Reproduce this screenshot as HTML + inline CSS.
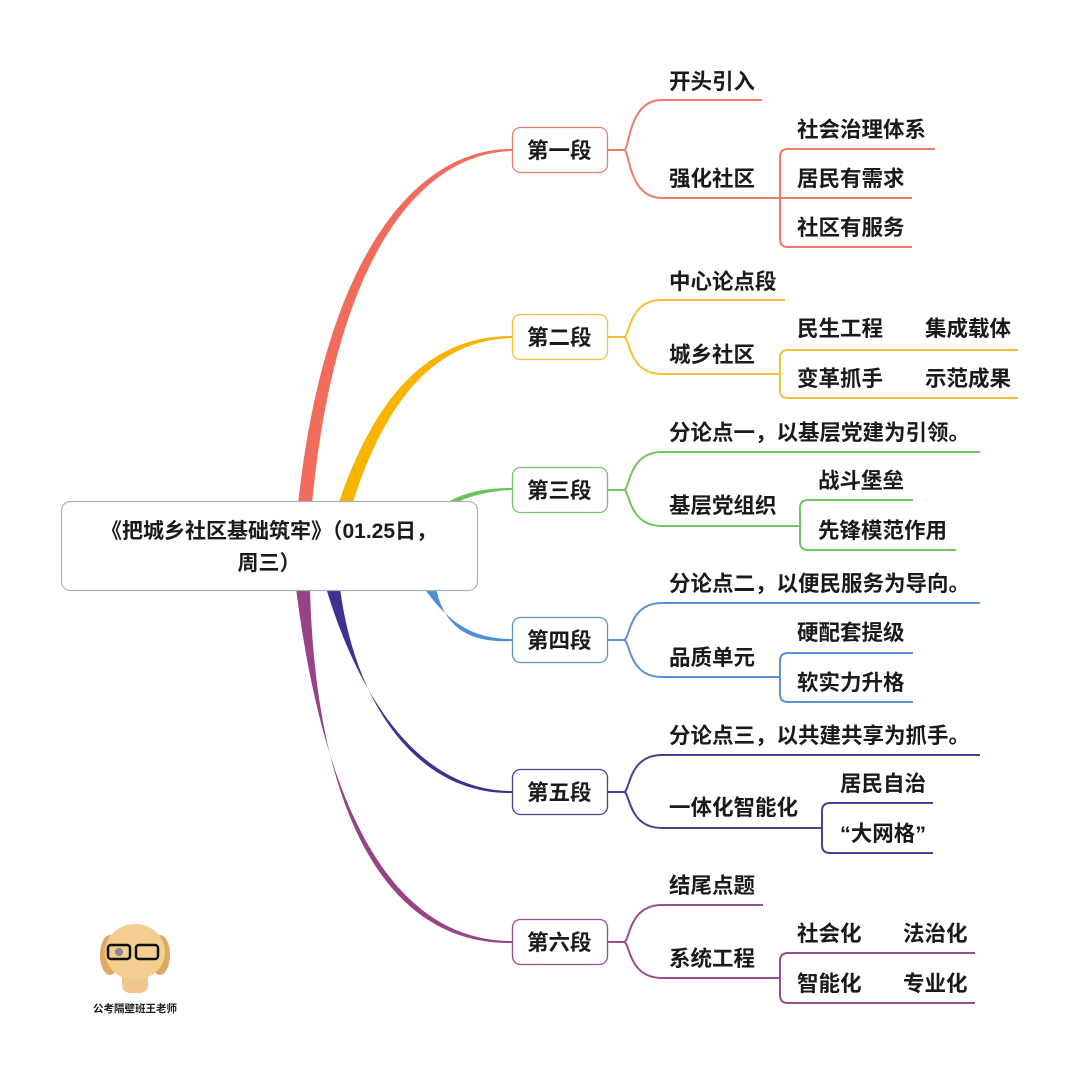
<!DOCTYPE html>
<html><head><meta charset="utf-8"><style>
html,body{margin:0;padding:0;background:#fff}
svg text{font-family:"Liberation Sans","Noto Sans CJK SC",sans-serif;font-weight:bold;fill:#1a1a1a}
</style></head><body>
<svg width="1080" height="1065" viewBox="0 0 1080 1065" xmlns="http://www.w3.org/2000/svg">
<rect width="1080" height="1065" fill="#fff"/>
<path d="M298,505 C325,250 420,148 512,149 L512,151 C422,153 335,255 312,505Z" fill="#f26c5c"/>
<path d="M338,505 C380,380 440,336 512,336 L512,338 C445,340 390,385 352,505Z" fill="#f7b500"/>
<path d="M446,503 C465,492 485,488 512,488 L512,490 C488,491 470,496 456,503Z" fill="#6cc25a"/>
<path d="M424,588 C450,625 475,639 512,639 L512,641 C475,643 445,632 436,588Z" fill="#4d8fd6"/>
<path d="M326,588 C360,700 420,791 512,791 L512,793 C418,795 355,705 340,588Z" fill="#3f3192"/>
<path d="M296,588 C320,780 380,941 512,941 L512,943 C375,945 315,790 310,588Z" fill="#974387"/>
<rect x="61.5" y="501.5" width="416" height="89" rx="9" fill="#fff" stroke="#aab0b8" stroke-width="1.2"/>
<text x="269" y="538" font-size="21" text-anchor="middle">《把城乡社区基础筑牢》（01.25日，</text>
<text x="269" y="570" font-size="21" text-anchor="middle">周三）</text>

<g fill="none" stroke-width="2">
<g stroke="#ee7a68">
<rect x="512.5" y="127.5" width="95" height="45" rx="8" fill="#fff" stroke-width="1.3"/>
<path d="M607,150 H624 C630,150 628,100 662,100 H762"/>
<path d="M624,150 C630,150 628,198 662,198 H780"/>
<path d="M780,198 V157 Q780,149 788,149 H935"/>
<path d="M780,198 H912"/>
<path d="M780,198 V239 Q780,247 788,247 H912"/>
</g>
<g stroke="#f5c03a">
<rect x="512.5" y="314.5" width="95" height="45" rx="8" fill="#fff" stroke-width="1.3"/>
<path d="M607,337 H624 C630,337 628,300 662,300 H785"/>
<path d="M624,337 C630,337 628,374 662,374 H780"/>
<path d="M780,374 V358 Q780,350 788,350 H1018"/>
<path d="M780,374 V390 Q780,398 788,398 H1018"/>
</g>
<g stroke="#74c365">
<rect x="512.5" y="467.5" width="95" height="45" rx="8" fill="#fff" stroke-width="1.3"/>
<path d="M607,490 H624 C630,490 628,452 662,452 H980"/>
<path d="M624,490 C630,490 628,526 662,526 H800"/>
<path d="M800,526 V508 Q800,500 808,500 H913"/>
<path d="M800,526 V542 Q800,550 808,550 H956"/>
</g>
<g stroke="#5a93d2">
<rect x="512.5" y="617.5" width="95" height="45" rx="8" fill="#fff" stroke-width="1.3"/>
<path d="M607,640 H624 C630,640 628,603 662,603 H980"/>
<path d="M624,640 C630,640 628,677 662,677 H780"/>
<path d="M780,677 V661 Q780,653 788,653 H913"/>
<path d="M780,677 V694 Q780,702 788,702 H913"/>
</g>
<g stroke="#4a3f92">
<rect x="512.5" y="769.5" width="95" height="45" rx="8" fill="#fff" stroke-width="1.3"/>
<path d="M607,792 H624 C630,792 628,755 662,755 H980"/>
<path d="M624,792 C630,792 628,828 662,828 H822"/>
<path d="M822,828 V811 Q822,803 830,803 H933"/>
<path d="M822,828 V845 Q822,853 830,853 H933"/>
</g>
<g stroke="#9a4e8f">
<rect x="512.5" y="919.5" width="95" height="45" rx="8" fill="#fff" stroke-width="1.3"/>
<path d="M607,942 H624 C630,942 628,905 662,905 H763"/>
<path d="M624,942 C630,942 628,978 662,978 H780"/>
<path d="M780,978 V961 Q780,953 788,953 H975"/>
<path d="M780,978 V995 Q780,1003 788,1003 H975"/>
</g>
</g>

<g font-size="21.5">
<text x="527" y="158">第一段</text>
<text x="527" y="345">第二段</text>
<text x="527" y="498">第三段</text>
<text x="527" y="648">第四段</text>
<text x="527" y="800">第五段</text>
<text x="527" y="950">第六段</text>

<text x="669" y="89">开头引入</text>
<text x="669" y="186">强化社区</text>
<text x="797" y="137">社会治理体系</text>
<text x="797" y="186">居民有需求</text>
<text x="797" y="235">社区有服务</text>

<text x="669" y="289">中心论点段</text>
<text x="669" y="362">城乡社区</text>
<text x="797" y="336">民生工程</text>
<text x="925" y="336">集成载体</text>
<text x="797" y="386">变革抓手</text>
<text x="925" y="386">示范成果</text>

<text x="669" y="440">分论点一，以基层党建为引领。</text>
<text x="669" y="513">基层党组织</text>
<text x="818" y="488">战斗堡垒</text>
<text x="818" y="538">先锋模范作用</text>

<text x="669" y="591">分论点二，以便民服务为导向。</text>
<text x="669" y="665">品质单元</text>
<text x="797" y="640">硬配套提级</text>
<text x="797" y="690">软实力升格</text>

<text x="669" y="743">分论点三，以共建共享为抓手。</text>
<text x="669" y="815">一体化智能化</text>
<text x="840" y="791">居民自治</text>
<text x="840" y="841">“大网格”</text>

<text x="669" y="893">结尾点题</text>
<text x="669" y="966">系统工程</text>
<text x="797" y="941">社会化</text>
<text x="903" y="941">法治化</text>
<text x="797" y="991">智能化</text>
<text x="903" y="991">专业化</text>
</g>

<g>
<ellipse cx="110" cy="955" rx="10" ry="20" fill="#e0a85e"/>
<ellipse cx="160" cy="955" rx="10" ry="20" fill="#e0a85e"/>
<rect x="122" y="965" width="26" height="28" rx="8" fill="#f2c58a"/>
<ellipse cx="135" cy="952" rx="30" ry="28" fill="#f4cd92"/>
<rect x="108" y="945" width="22" height="14" rx="3" fill="none" stroke="#111" stroke-width="2.5"/>
<rect x="136" y="945" width="22" height="14" rx="3" fill="none" stroke="#111" stroke-width="2.5"/>
<circle cx="119" cy="952" r="4" fill="#888"/>
<text x="135" y="1012" font-size="10.5" text-anchor="middle">公考隔壁班王老师</text>
</g>
</svg>
</body></html>
